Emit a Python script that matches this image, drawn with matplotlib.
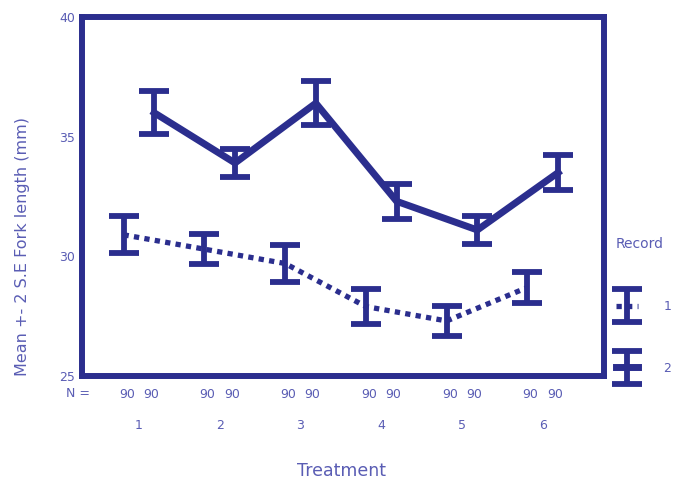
import matplotlib.pyplot as plt
import matplotlib.transforms as mtransforms
from matplotlib.legend_handler import HandlerErrorbar
import numpy as np

treatments = [1, 2, 3, 4, 5, 6]
# record 1 (dotted, lower)
mean_1 = [30.9, 30.3, 29.7, 27.9, 27.3, 28.7]
err_1 = [0.78, 0.63, 0.78, 0.74, 0.63, 0.63]
# record 2 (solid, upper)
mean_2 = [36.0, 33.9, 36.4, 32.3, 31.1, 33.5]
err_2 = [0.90, 0.57, 0.92, 0.74, 0.59, 0.74]
n_1 = ["90"] * 6
n_2 = ["90"] * 6

navy = "#2b2e8e"
light = "#5a5db4"

fig = plt.figure(figsize=(6.83, 4.87), dpi=100)
ax = fig.add_axes([0.12, 0.228, 0.764, 0.737])

x = np.array(treatments, dtype=float)
off = 0.19

eb1 = ax.errorbar(x - off, mean_1, yerr=err_1, color=navy, lw=3.8,
                  linestyle=(0, (1, 1.0)), elinewidth=4.2, capsize=11,
                  capthick=4.2, label="1")
eb2 = ax.errorbar(x + off, mean_2, yerr=err_2, color=navy, lw=5,
                  linestyle="-", elinewidth=4.2, capsize=11,
                  capthick=4.2, label="2")

ax.set_xlim(0.295, 6.755)
ax.set_ylim(25, 40)
ax.set_yticks([25, 30, 35, 40])
ax.set_xticks([])
ax.tick_params(axis="y", length=0, labelsize=9, labelcolor=light, pad=5)
for s in ax.spines.values():
    s.set_linewidth(4.3)
    s.set_color(navy)

ax.set_ylabel("Mean +- 2 S.E Fork length (mm)", color=light, fontsize=11.5)
ax.yaxis.set_label_coords(-0.10, 0.362)

trans = mtransforms.blended_transform_factory(ax.transData, fig.transFigure)
for xi, a, b in zip(x, n_1, n_2):
    ax.text(xi - 0.15, 0.189, a, transform=trans, ha="center", va="center",
            fontsize=9, color=light)
    ax.text(xi + 0.15, 0.189, b, transform=trans, ha="center", va="center",
            fontsize=9, color=light)
    ax.text(xi, 0.127, str(int(xi)), transform=trans, ha="center",
            va="center", fontsize=9, color=light)
fig.text(78 / 683, 0.193, "N =", ha="center", va="center", fontsize=9,
         color=light)
fig.text(0.5, 0.033, "Treatment", ha="center", va="center", fontsize=12.5,
         color=light)

hmap = {eb1: HandlerErrorbar(xerr_size=0.5, yerr_size=1.3),
        eb2: HandlerErrorbar(xerr_size=0.5, yerr_size=1.3)}
leg = fig.legend(handles=[eb1, eb2], labels=["1", "2"], title="Record",
                 loc="upper left", bbox_to_anchor=(0.885, 0.536),
                 frameon=False, handlelength=1.8, handletextpad=2.0,
                 fontsize=9, title_fontsize=10, labelspacing=3.9,
                 labelcolor=light, handler_map=hmap,
                 alignment="left")
leg.get_title().set_color(light)

fig.savefig("out.png", dpi=100)
